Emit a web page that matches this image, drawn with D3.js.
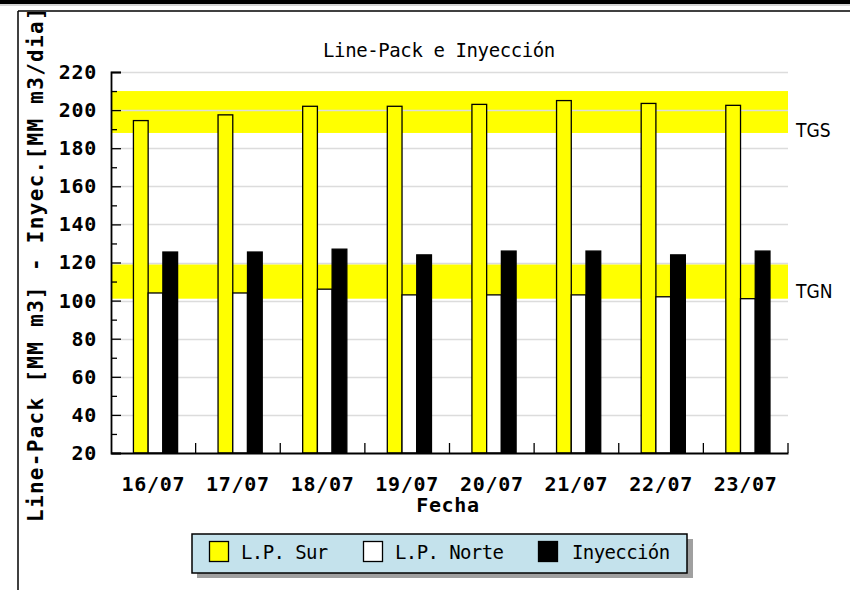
<!DOCTYPE html>
<html>
<head>
<meta charset="utf-8">
<script src="https://cdn.jsdelivr.net/npm/d3@7"></script>
<style>
  html, body { margin: 0; padding: 0; background: #fff; }
  svg { display: block; }
</style>
</head>
<body>
<svg id="chart" width="850" height="590"></svg>
<script>
// ---- data ----
const categories = ["16/07", "17/07", "18/07", "19/07", "20/07", "21/07", "22/07", "23/07"];
const seriesNames = ["L.P. Sur", "L.P. Norte", "Inyección"];
const lpSur = [194.5, 197.5, 202, 202, 203, 205, 203.5, 202.5];
const lpNorte = [104, 104, 106, 103, 103, 103, 102, 101];
const inyeccion = [125.5, 125.5, 127, 124, 126, 126, 124, 126];
const yTickValues = [20, 40, 60, 80, 100, 120, 140, 160, 180, 200, 220];
const yMinorValues = [30, 50, 70, 90, 110, 130, 150, 170, 190, 210];
const bandNames = ["TGS", "TGN"];
const bandLow = [188, 101];
const bandHigh = [210, 119];
const chartTitle = "Line-Pack e Inyección";
const yTitle = "Line-Pack [MM m3] - Inyec.[MM m3/dia]";
const xTitle = "Fecha";

// ---- styles ----
const seriesFill = ["#ffff00", "#ffffff", "#000000"];
const bandLabelDy = [4, -1];
const boldMono = "'DejaVu Sans Mono', monospace";

const svg = d3.select("#chart");

// Page frame
svg.append("rect").attr("x", 0).attr("y", 0).attr("width", 850).attr("height", 4).attr("fill", "#000");
svg.append("line").attr("x1", 0).attr("x2", 850).attr("y1", 5).attr("y2", 5).attr("stroke", "#aaa").attr("stroke-width", 1);
svg.append("line").attr("x1", 18).attr("x2", 850).attr("y1", 11).attr("y2", 11).attr("stroke", "#000").attr("stroke-width", 1.5);
svg.append("line").attr("x1", 18).attr("x2", 18).attr("y1", 11).attr("y2", 590).attr("stroke", "#000").attr("stroke-width", 1.5);

const pLeft = 111, pRight = 788, pTop = 72, pBottom = 453;

const x0 = d3.scaleBand().domain(categories).range([pLeft, pRight]).padding(0);
const bw = x0.bandwidth();
const x1 = d3.scaleBand().domain(seriesNames).range([0.265 * bw, 0.787 * bw]).padding(0);
const y = d3.scaleLinear().domain([20, 220]).range([pBottom, pTop]);

// Bands
const bands = bandNames.map((n, i) => ({ name: n, lo: bandLow[i], hi: bandHigh[i], dy: bandLabelDy[i] }));
svg.append("g").selectAll("rect").data(bands).join("rect")
  .attr("x", pLeft).attr("width", pRight - pLeft)
  .attr("y", d => y(d.hi)).attr("height", d => y(d.lo) - y(d.hi))
  .attr("fill", "#ffff00");

// Grid lines
svg.append("g").selectAll("line").data(yTickValues.filter(v => v > 20)).join("line")
  .attr("x1", pLeft).attr("x2", pRight)
  .attr("y1", d => Math.round(y(d)) + 0.5).attr("y2", d => Math.round(y(d)) + 0.5)
  .attr("stroke", "#dcdcdc").attr("stroke-width", 1.6);

// Band labels
svg.append("g").selectAll("text").data(bands).join("text")
  .attr("x", 796).attr("y", d => y(d.lo) + d.dy)
  .attr("font-family", "'Liberation Sans Narrow', 'DejaVu Sans Condensed', sans-serif")
  .attr("font-size", 19).attr("fill", "#000")
  .text(d => d.name);

// Bars
const rows = categories.map((c, i) => ({ cat: c, vals: [lpSur[i], lpNorte[i], inyeccion[i]] }));
const groups = svg.append("g").selectAll("g").data(rows).join("g")
  .attr("transform", d => `translate(${x0(d.cat)},0)`);
groups.selectAll("rect").data(d => d.vals.map((v, j) => ({ v, s: seriesNames[j], j }))).join("rect")
  .attr("x", d => x1(d.s)).attr("width", x1.bandwidth())
  .attr("y", d => y(d.v)).attr("height", d => y(20) - y(d.v))
  .attr("fill", d => seriesFill[d.j]).attr("stroke", "#000").attr("stroke-width", 1.3);

// Y axis
const yAxis = d3.axisLeft(y).tickValues(yTickValues).tickSize(-10).tickPadding(14).tickFormat(d3.format("d"));
const gy = svg.append("g").attr("transform", `translate(${pLeft},0)`).call(yAxis);
gy.select(".domain").attr("stroke", "#000").attr("stroke-width", 1.8);
gy.selectAll(".tick line").attr("stroke", "#000").attr("stroke-width", 1.3);
gy.selectAll(".tick text").attr("font-family", boldMono).attr("font-weight", "bold")
  .attr("font-size", 20).attr("letter-spacing", 0.7).attr("fill", "#000");
const yMinor = d3.axisLeft(y).tickValues(yMinorValues).tickSize(-6).tickFormat("");
const gym = svg.append("g").attr("transform", `translate(${pLeft},0)`).call(yMinor);
gym.select(".domain").remove();
gym.selectAll(".tick line").attr("stroke", "#000").attr("stroke-width", 1.3);

// X axis
const xAxis = d3.axisBottom(x0).tickSize(0).tickPadding(24);
const gx = svg.append("g").attr("transform", `translate(0,${pBottom})`).call(xAxis);
gx.select(".domain").attr("stroke", "#000").attr("stroke-width", 1.8);
gx.selectAll(".tick text").attr("font-family", boldMono).attr("font-weight", "bold")
  .attr("font-size", 20).attr("letter-spacing", 0.7).attr("fill", "#000");
// Boundary ticks (pointing up)
svg.append("g").selectAll("line").data(categories).join("line")
  .attr("x1", d => x0(d) + bw).attr("x2", d => x0(d) + bw)
  .attr("y1", pBottom).attr("y2", pBottom - 10)
  .attr("stroke", "#000").attr("stroke-width", 1.3);

// Title
svg.append("text").attr("x", 439).attr("y", 57).attr("text-anchor", "middle")
  .attr("font-family", boldMono).attr("font-size", 19).attr("letter-spacing", -0.4).attr("fill", "#000")
  .text(chartTitle);

// X title
svg.append("text").attr("x", 448).attr("y", 512).attr("text-anchor", "middle")
  .attr("font-family", boldMono).attr("font-weight", "bold").attr("font-size", 20)
  .attr("letter-spacing", 0.7).attr("fill", "#000").text(xTitle);

// Y title (clipped by the frame)
svg.append("clipPath").attr("id", "clipY").append("rect")
  .attr("x", 0).attr("y", 12).attr("width", 850).attr("height", 578);
svg.append("g").attr("clip-path", "url(#clipY)").append("text")
  .attr("transform", "translate(43,522) rotate(-90)")
  .attr("font-family", boldMono).attr("font-weight", "bold").attr("font-size", 21)
  .attr("letter-spacing", 1.3).attr("fill", "#000").text(yTitle);

// Legend
const lg = svg.append("g");
lg.append("rect").attr("x", 197).attr("y", 539).attr("width", 496).attr("height", 39).attr("fill", "#a0a0a0");
lg.append("rect").attr("x", 192).attr("y", 534).attr("width", 495).attr("height", 39)
  .attr("fill", "#c4e2ec").attr("stroke", "#000").attr("stroke-width", 1.5);
const legX = [209, 363, 538];
const legItems = lg.selectAll("g.item").data(seriesNames).join("g").attr("class", "item")
  .attr("transform", (d, i) => `translate(${legX[i]},541)`);
legItems.append("rect").attr("x", 0.5).attr("y", 0.5).attr("width", 19).attr("height", 20)
  .attr("fill", (d, i) => seriesFill[i]).attr("stroke", "#000").attr("stroke-width", 1.3);
legItems.append("text").attr("x", (d, i) => i === 2 ? 34 : 32).attr("y", 18)
  .attr("font-family", boldMono).attr("font-size", 19).attr("letter-spacing", -0.6).attr("fill", "#000")
  .text(d => d);
</script>
</body>
</html>
